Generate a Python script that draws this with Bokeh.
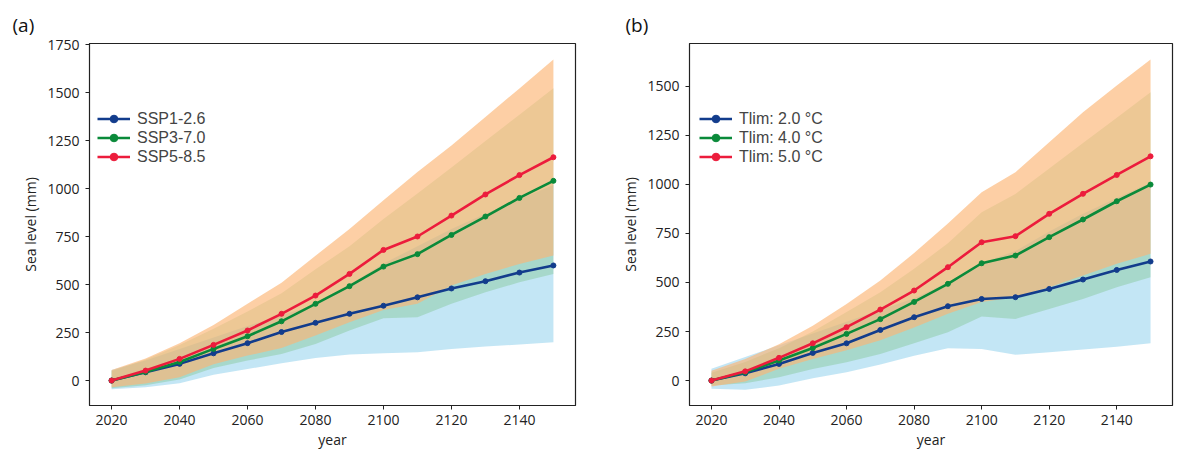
from bokeh.plotting import figure
from bokeh.models import Legend, LegendItem, Title, FixedTicker, Range1d
from bokeh.layouts import row
from bokeh.embed import file_html
from bokeh.resources import INLINE

years = [2020, 2030, 2040, 2050, 2060, 2070, 2080, 2090, 2100, 2110, 2120, 2130, 2140, 2150]

# ---- panel (a): SSP scenarios ----
a_labels = ["SSP1-2.6", "SSP3-7.0", "SSP5-8.5"]
a_ssp126 = [0, 43, 87, 142, 195, 253, 301, 348, 390, 434, 480, 518, 563, 600]
a_ssp370 = [0, 45, 97, 165, 231, 309, 400, 492, 594, 659, 759, 855, 952, 1041]
a_ssp585 = [0, 52, 113, 186, 261, 348, 443, 556, 681, 751, 860, 970, 1071, 1164]
a_ssp126_lo = [-45, -35, -14, 30, 60, 90, 118, 136, 142, 148, 165, 177, 188, 200]
a_ssp126_hi = [55, 105, 165, 225, 285, 340, 395, 500, 610, 700, 790, 870, 945, 1020]
a_ssp370_lo = [-40, -25, 5, 65, 104, 139, 191, 261, 325, 330, 400, 460, 512, 556]
a_ssp370_hi = [50, 110, 185, 270, 360, 455, 580, 700, 842, 975, 1111, 1249, 1386, 1524]
a_ssp585_lo = [-35, -15, 17, 85, 130, 170, 235, 304, 368, 400, 495, 556, 608, 652]
a_ssp585_hi = [55, 115, 195, 290, 400, 510, 650, 790, 940, 1087, 1225, 1374, 1523, 1673]

# ---- panel (b): temperature limits ----
b_labels = ["Tlim: 2.0 \u00b0C", "Tlim: 4.0 \u00b0C", "Tlim: 5.0 \u00b0C"]
b_t20 = [0, 37, 85, 141, 190, 258, 323, 379, 416, 425, 467, 515, 564, 607]
b_t40 = [0, 42, 102, 166, 238, 313, 401, 493, 598, 637, 731, 821, 914, 999]
b_t50 = [0, 47, 116, 190, 272, 362, 459, 578, 705, 736, 850, 952, 1048, 1143]
b_t20_lo = [-42, -47, -25, 12, 42, 82, 127, 165, 161, 132, 144, 158, 173, 190]
b_t20_hi = [60, 120, 180, 240, 300, 360, 420, 500, 600, 660, 760, 850, 930, 1010]
b_t40_lo = [-25, -14, 17, 59, 93, 136, 190, 246, 326, 314, 365, 416, 476, 527]
b_t40_hi = [40, 95, 165, 250, 350, 450, 570, 700, 858, 951, 1081, 1211, 1340, 1470]
b_t50_lo = [-30, -5, 60, 110, 155, 205, 270, 340, 400, 425, 476, 535, 595, 646]
b_t50_hi = [50, 110, 185, 280, 390, 510, 650, 800, 960, 1062, 1215, 1368, 1504, 1636]

x_ticks = [2020, 2040, 2060, 2080, 2100, 2120, 2140]
a_y_ticks = [0, 250, 500, 750, 1000, 1250, 1500, 1750]
b_y_ticks = [0, 250, 500, 750, 1000, 1250, 1500]

line_colors = ["#123C8C", "#0A8A3A", "#EC1C3C"]
band_colors = ["#87CEEB", "#66BB6A", "#FCB575"]
band_alphas = [0.5, 0.3, 0.65]

FONT = "Open Sans"


def panel(tag, tag_offset, labels, meds, los, his, y_ticks, y_range, width, border_right, legend_x):
    p = figure(width=width, height=456, output_backend="svg", toolbar_location=None,
               x_range=Range1d(2013.5, 2156.5), y_range=Range1d(*y_range),
               min_border_left=89, min_border_right=border_right,
               min_border_top=43, min_border_bottom=51)
    p.grid.visible = False
    p.outline_line_color = "#222222"
    p.outline_line_width = 1.2
    p.background_fill_color = "white"
    p.border_fill_color = "white"

    p.title = Title(text=tag, align="left", offset=tag_offset, text_font=FONT,
                    text_font_size="19px", text_font_style="normal",
                    text_color="#111111", standoff=12)

    for lo, hi, c, a in zip(los, his, band_colors, band_alphas):
        p.varea(x=years, y1=lo, y2=hi, fill_color=c, fill_alpha=a)

    items = []
    for lab, m, c in zip(labels, meds, line_colors):
        r1 = p.line(years, m, line_color=c, line_width=2.6)
        r2 = p.scatter(years, m, size=5, fill_color=c, line_color=c)
        items.append(LegendItem(label=lab, renderers=[r1, r2]))

    leg = Legend(items=items, location=(legend_x, 239), border_line_color=None,
                 background_fill_alpha=0, label_text_font="Liberation Sans",
                 label_text_font_size="16px", label_height=19, glyph_height=19,
                 glyph_width=33, label_standoff=7, spacing=0, padding=0, margin=0)
    p.add_layout(leg)

    for ax in (p.xaxis, p.yaxis):
        ax.axis_line_color = "#222222"
        ax.major_tick_line_color = "#222222"
        ax.major_tick_out = 4
        ax.major_tick_in = 0
        ax.minor_tick_line_color = None
        ax.major_label_text_font = FONT
        ax.major_label_text_font_size = "14px"
        ax.major_label_text_color = "#222222"
        ax.axis_label_text_font = FONT
        ax.axis_label_text_font_size = "14px"
        ax.axis_label_text_font_style = "normal"
        ax.axis_label_text_color = "#222222"
    p.xaxis.ticker = FixedTicker(ticks=x_ticks)
    p.yaxis.ticker = FixedTicker(ticks=y_ticks)
    p.xaxis.axis_label = "year"
    p.yaxis.axis_label = "Sea level (mm)"
    p.xaxis.major_label_standoff = 5
    p.xaxis.axis_label_standoff = 2
    p.yaxis.major_label_standoff = 6
    p.yaxis.axis_label_standoff = 4
    return p


pa = panel("(a)", -77, a_labels, [a_ssp126, a_ssp370, a_ssp585],
           [a_ssp126_lo, a_ssp370_lo, a_ssp585_lo], [a_ssp126_hi, a_ssp370_hi, a_ssp585_hi],
           a_y_ticks, (-130, 1757), 600, 25, 8)
pb = panel("(b)", -64, b_labels, [b_t20, b_t40, b_t50],
           [b_t20_lo, b_t40_lo, b_t50_lo], [b_t20_hi, b_t40_hi, b_t50_hi],
           b_y_ticks, (-127, 1718), 584, 12, 10)

layout = row(pa, pb)
open("out.html", "w").write(file_html(layout, INLINE))
